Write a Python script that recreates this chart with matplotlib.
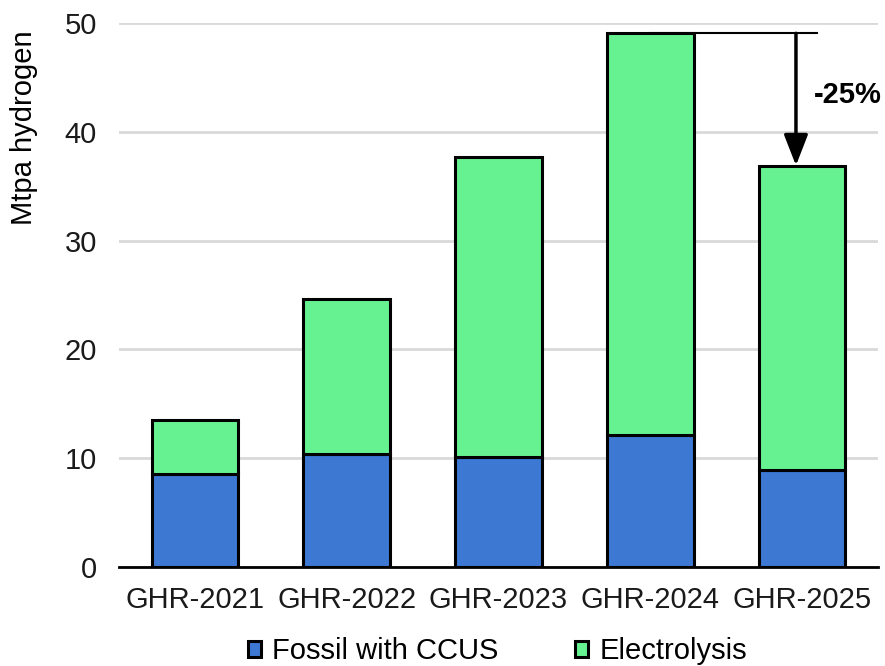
import matplotlib
matplotlib.use("Agg")
import matplotlib.pyplot as plt
import numpy as np

categories = ["GHR-2021", "GHR-2022", "GHR-2023", "GHR-2024", "GHR-2025"]
fossil_ccus = [8.55, 10.35, 10.1, 12.1, 8.9]
electrolysis = [4.95, 14.25, 27.6, 36.95, 28.0]
yticks = [0, 10, 20, 30, 40, 50]

plt.rcParams['font.family'] = ['Liberation Sans', 'DejaVu Sans']
plt.rcParams['font.size'] = 21

fig = plt.figure(figsize=(8.85, 6.66), dpi=100)
ax = fig.add_axes([0.1345, 0.1486, 0.8575, 0.8169])

x = np.arange(len(categories))
w = 0.57
c_blue = "#3D78D3"
c_green = "#66F290"
b1 = ax.bar(x, fossil_ccus, w, color=c_blue, edgecolor="black", linewidth=2.2,
            label="Fossil with CCUS", zorder=3)
b2 = ax.bar(x, electrolysis, w, bottom=fossil_ccus, color=c_green, edgecolor="black",
            linewidth=2.2, label="Electrolysis", zorder=3)

ax.set_xlim(-0.5, len(categories) - 0.5)
ax.set_ylim(0, 50)
ax.set_yticks(yticks)
ax.set_xticks(x)
ax.set_xticklabels(categories)
ax.yaxis.grid(True, color="#D9D9D9", linewidth=2, zorder=0)
ax.set_axisbelow(True)
for s in ["left", "right", "top"]:
    ax.spines[s].set_visible(False)
ax.spines["bottom"].set_linewidth(2)
ax.spines["bottom"].set_zorder(4)
ax.tick_params(axis="both", length=0, colors="#1a1a1a", labelsize=21)
ax.tick_params(axis="x", pad=14)
ax.tick_params(axis="y", pad=16)
ax.set_ylabel("Mtpa hydrogen", fontsize=21)
ax.yaxis.set_label_coords(-0.107, 0.807)

totals = [f + e for f, e in zip(fossil_ccus, electrolysis)]
t_prev, t_last = totals[-2], totals[-1]
pct = (t_last - t_prev) / t_prev * 100
ax.plot([x[-2], x[-1] + 0.1], [t_prev, t_prev], color="black", linewidth=1.5, zorder=2)
ax.annotate("", xy=(x[-1] - 0.04, t_last), xytext=(x[-1] - 0.04, t_prev),
            arrowprops=dict(arrowstyle="-|>,head_length=0.9,head_width=0.35",
                            color="black", lw=2.5, shrinkA=0, shrinkB=0), zorder=5)
ax.text(x[-1] + 0.3, (t_prev + t_last) / 2 + 0.4, f"{pct:.0f}%", fontsize=21,
        fontweight="bold", ha="center", va="center")

fig.legend(handles=[b1, b2], loc="lower center", bbox_to_anchor=(0.562, -0.038),
           ncol=2, frameon=False, fontsize=21, handlelength=0.45, handleheight=0.45,
           handletextpad=0.4, columnspacing=2.6)

fig.savefig("out.png", dpi=100)
